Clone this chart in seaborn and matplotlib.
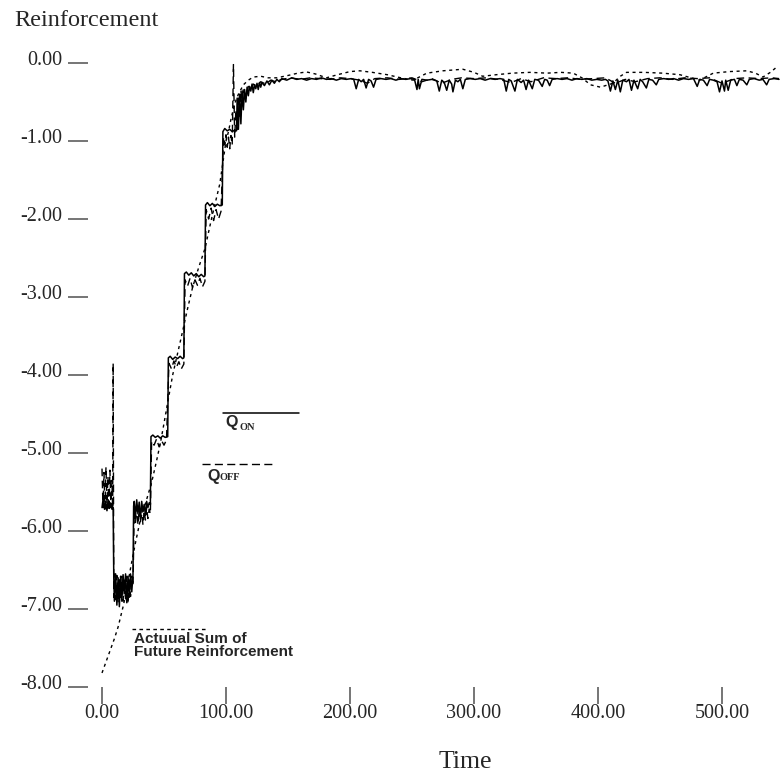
import matplotlib
matplotlib.use("Agg")
import matplotlib.pyplot as plt
from matplotlib.lines import Line2D
from matplotlib.transforms import ScaledTranslation
import seaborn as sns
import pandas as pd

# ---------------- data ----------------
q_on_t = [0, 1, 2, 3, 4, 5, 6, 7, 8, 9,
          9.5, 10, 11, 12, 13, 14, 15, 16, 17, 18, 19, 20, 21, 22, 23, 24, 25,
          25.5, 26, 27, 28, 29, 30, 31, 32, 33, 34, 35, 36, 37, 38, 39,
          39.5, 41, 43, 45, 47, 49, 51, 53,
          53.5, 55, 57, 59, 61, 63, 65, 66,
          66.5, 68, 70, 72, 74, 76, 78, 80, 82, 83,
          83.5, 85, 87, 89, 91, 93, 95, 97,
          97.5, 99, 101, 103, 105, 107, 108.5,
          109, 110, 111, 112, 113, 114, 115, 116, 117, 118, 119, 120, 121, 122, 123, 124,
          125, 126, 127, 128, 129, 131, 133, 135, 137, 139, 141, 143, 145,
          149, 153, 157, 161, 165, 169, 173, 177, 181, 185, 189, 193, 197, 201, 203,
          205, 207, 209, 211, 213, 215, 217, 219, 221, 225, 229, 233, 237, 241, 245,
          249, 252, 254, 255, 256, 258, 262, 266, 270, 272, 274, 276, 278, 280, 282,
          283, 285, 287, 289, 291, 293, 297, 301, 305, 309, 313, 317, 321, 324, 326,
          328, 330, 333, 335, 338, 340, 342, 344, 347, 349, 352, 355, 357, 359, 361,
          363, 367, 371, 375, 379, 383, 387, 391, 395, 399, 403, 406, 408, 410, 412,
          414, 416, 418, 420, 423, 425, 427, 429, 432, 434, 436, 439, 441, 444, 447,
          449, 453, 457, 461, 465, 469, 473, 477, 480, 482, 485, 488, 490, 493, 496,
          498, 500, 502, 503, 505, 507, 510, 512, 514, 517, 520, 522, 526, 530, 533,
          536, 538, 542, 546]
q_on_v = [-5.70, -5.58, -5.72, -5.62, -5.74, -5.60, -5.71, -5.64, -5.72, -5.70,
          -6.60, -6.90, -6.55, -6.95, -6.60, -6.97, -6.58, -6.90, -6.56, -6.80, -6.55, -6.92, -6.58, -6.85, -6.55, -6.78, -6.56,
          -5.68, -5.62, -5.82, -5.60, -5.78, -5.63, -5.85, -5.62, -5.75, -5.66, -5.80, -5.62, -5.70, -5.64, -5.66,
          -4.79, -4.77, -4.80, -4.78, -4.81, -4.78, -4.80, -4.79,
          -3.78, -3.76, -3.80, -3.77, -3.79, -3.76, -3.79, -3.78,
          -2.70, -2.68, -2.72, -2.69, -2.73, -2.70, -2.74, -2.71, -2.74, -2.73,
          -1.82, -1.79, -1.83, -1.80, -1.84, -1.81, -1.83, -1.82,
          -0.88, -0.84, -0.87, -0.85, -0.88, -0.86, -0.87,
          -0.45, -0.85, -0.40, -0.78, -0.36, -0.60, -0.34, -0.50, -0.31, -0.42, -0.30, -0.36, -0.27, -0.38, -0.28, -0.33,
          -0.26, -0.34, -0.25, -0.31, -0.25, -0.29, -0.23, -0.28, -0.22, -0.26, -0.21, -0.24, -0.20,
          -0.22, -0.19, -0.21, -0.20, -0.22, -0.20, -0.21, -0.19, -0.21, -0.20, -0.22, -0.20, -0.21, -0.20, -0.21,
          -0.33, -0.21, -0.24, -0.21, -0.32, -0.21, -0.23, -0.31, -0.21, -0.20, -0.21, -0.20, -0.22, -0.20, -0.21,
          -0.20, -0.21, -0.34, -0.21, -0.33, -0.21, -0.22, -0.21, -0.23, -0.36, -0.22, -0.25, -0.35, -0.22, -0.27,
          -0.37, -0.22, -0.24, -0.21, -0.33, -0.21, -0.20, -0.21, -0.20, -0.22, -0.20, -0.21, -0.20, -0.21, -0.36,
          -0.21, -0.23, -0.36, -0.21, -0.25, -0.22, -0.34, -0.22, -0.33, -0.21, -0.22, -0.30, -0.21, -0.22, -0.29,
          -0.21, -0.20, -0.21, -0.20, -0.22, -0.20, -0.21, -0.20, -0.22, -0.21, -0.22, -0.21, -0.23, -0.36, -0.23,
          -0.34, -0.22, -0.37, -0.22, -0.24, -0.21, -0.35, -0.22, -0.33, -0.21, -0.24, -0.32, -0.21, -0.22, -0.28,
          -0.21, -0.20, -0.21, -0.20, -0.22, -0.20, -0.21, -0.20, -0.30, -0.21, -0.22, -0.29, -0.21, -0.22, -0.24,
          -0.37, -0.23, -0.36, -0.22, -0.35, -0.22, -0.21, -0.29, -0.21, -0.22, -0.28, -0.21, -0.20, -0.22, -0.21,
          -0.28, -0.21, -0.20, -0.21]

q_off_t = [0, 0.8, 1.6, 2.4, 3.2, 4.0, 4.8, 5.6, 6.4, 7.2, 8.0, 8.6,
           9, 9.5, 10.5, 11, 12, 13, 14, 15, 16, 17, 18, 19, 20, 21, 22, 23, 24, 25,
           26, 27, 28, 29, 30, 31, 32, 33, 34, 35, 36, 37, 38, 39,
           40, 42, 44, 46, 48, 50, 52,
           54, 56, 58, 60, 62, 64, 66,
           67, 69, 71, 73, 75, 77, 79, 81, 83,
           84, 86, 88, 90, 92, 94, 96,
           98, 99, 100, 101, 102, 103, 104, 105,
           106, 107, 108, 109, 110, 111, 112, 113, 114, 116, 118, 120, 122, 125, 128,
           132, 136, 140, 145, 152, 160, 168, 176, 184, 192, 200, 208, 214, 220, 230,
           240, 250, 258, 266, 274, 282, 290, 300, 310, 320, 330, 338, 346, 356, 366,
           376, 386, 396, 406, 414, 422, 430, 440, 450, 460, 470, 480, 490, 500, 510,
           520, 530, 540, 546]
q_off_v = [-5.20, -5.70, -5.25, -5.72, -5.18, -5.65, -5.30, -5.74, -5.22, -5.70, -5.35, -5.72,
           -3.85, -6.85, -6.55, -6.88, -6.57, -6.92, -6.60, -6.85, -6.58, -6.90, -6.62, -6.87, -6.58, -6.93, -6.60, -6.84, -6.58, -6.70,
           -5.75, -5.90, -5.70, -5.92, -5.72, -5.88, -5.70, -5.92, -5.74, -5.86, -5.70, -5.84, -5.72, -5.78,
           -4.85, -4.90, -4.82, -4.92, -4.84, -4.90, -4.83,
           -3.85, -3.92, -3.82, -3.90, -3.83, -3.92, -3.86,
           -2.78, -2.86, -2.76, -2.88, -2.78, -2.85, -2.76, -2.87, -2.80,
           -1.88, -2.00, -1.86, -2.02, -1.88, -2.00, -1.90,
           -0.95, -1.05, -0.92, -1.08, -0.95, -1.10, -0.93, -1.05,
           -0.02, -0.95, -0.60, -0.85, -0.45, -0.70, -0.35, -0.55, -0.32, -0.45, -0.30, -0.34, -0.27, -0.30, -0.24,
           -0.27, -0.22, -0.24, -0.21, -0.19, -0.21, -0.19, -0.20, -0.21, -0.19, -0.20, -0.22, -0.26, -0.20, -0.19,
           -0.21, -0.19, -0.24, -0.20, -0.26, -0.21, -0.19, -0.20, -0.19, -0.21, -0.25, -0.20, -0.24, -0.19, -0.20,
           -0.19, -0.21, -0.20, -0.19, -0.26, -0.21, -0.24, -0.20, -0.19, -0.21, -0.19, -0.20, -0.19, -0.26, -0.20,
           -0.19, -0.20, -0.19, -0.20]

actual_t = [0, 5, 10, 13, 17, 20, 23, 27, 31, 35, 40, 44, 47, 50, 53, 57, 61, 65, 69, 73,
            78, 83, 88, 92, 95, 98, 100, 102, 104, 107, 110, 114, 118, 122, 128, 134, 141, 150,
            158, 165, 172, 181, 190, 200, 208, 218, 230, 241, 251, 262, 275, 291, 300, 307,
            318, 331, 345, 359, 370, 380, 387, 394, 402, 412, 418, 423, 437, 452, 466, 475,
            482, 488, 493, 506, 520, 527, 533, 539, 545]
actual_v = [-7.82, -7.60, -7.38, -7.23, -6.97, -6.75, -6.48, -6.15, -5.85, -5.65, -5.38, -5.10, -4.88, -4.62, -4.35, -4.00, -3.72, -3.44, -3.15, -2.88,
            -2.62, -2.38, -2.02, -1.75, -1.55, -1.22, -1.00, -0.88, -0.72, -0.52, -0.40, -0.28, -0.22, -0.18, -0.17, -0.19, -0.19, -0.16,
            -0.13, -0.115, -0.14, -0.19, -0.15, -0.11, -0.10, -0.12, -0.15, -0.19, -0.22, -0.13, -0.10, -0.08, -0.12, -0.17,
            -0.15, -0.13, -0.12, -0.13, -0.12, -0.13, -0.19, -0.28, -0.31, -0.26, -0.17, -0.12, -0.12, -0.13, -0.15, -0.19,
            -0.22, -0.17, -0.13, -0.11, -0.10, -0.13, -0.18, -0.12, -0.04]

x_ticks = [0, 100, 200, 300, 400, 500]
x_tick_labels = ["0.00", "100.00", "200.00", "300.00", "400.00", "500.00"]
y_ticks = [0, -1, -2, -3, -4, -5, -6, -7, -8]
y_tick_labels = ["0.00", "-1.00", "-2.00", "-3.00", "-4.00", "-5.00", "-6.00", "-7.00", "-8.00"]

# ---------------- figure ----------------
sns.set_style("white")
plt.rcParams["font.family"] = ["Liberation Serif", "DejaVu Serif"]

W, H = 780, 776
fig = plt.figure(figsize=(W / 100, H / 100), dpi=100)
ax = fig.add_axes([88 / W, 1 - 687 / H, (W - 88) / W, (687 - 63) / H])


def fx(px):
    return px / W


def fy(py):
    return 1 - py / H


df_on = pd.DataFrame({"t": q_on_t, "v": q_on_v})
df_off = pd.DataFrame({"t": q_off_t, "v": q_off_v})
df_act = pd.DataFrame({"t": actual_t, "v": actual_v})

sns.lineplot(data=df_act, x="t", y="v", ax=ax, color="black", linewidth=1.0,
             linestyle=(0, (2.2, 2.6)), estimator=None, sort=False)
sns.lineplot(data=df_off, x="t", y="v", ax=ax, color="black", linewidth=1.0,
             linestyle=(0, (5.5, 3.2)), estimator=None, sort=False)
sns.lineplot(data=df_on, x="t", y="v", ax=ax, color="black", linewidth=1.1,
             linestyle="-", estimator=None, sort=False)

ax.set_xlim(-14 / 1.24, (W - 102) / 1.24)
ax.set_ylim(-8, 0)
for s in ax.spines.values():
    s.set_visible(False)
ax.set_xlabel("")
ax.set_ylabel("")

ax.set_xticks(x_ticks)
ax.set_xticklabels(x_tick_labels, fontsize=14.5)
ax.set_yticks(y_ticks)
ax.set_yticklabels(y_tick_labels, fontsize=14.5)
ax.tick_params(axis="y", direction="out", length=14.4, width=1.3, color="#6a6a6a",
               pad=4.3, left=True)
ax.tick_params(axis="x", direction="out", length=12.2, width=1.3, color="#6a6a6a",
               pad=0.3, bottom=True)
off = ScaledTranslation(0, 5 / 100, fig.dpi_scale_trans)
for lab in ax.get_yticklabels():
    lab.set_transform(lab.get_transform() + off)

fig.text(fx(14), fy(20), "Reinforcement", fontsize=17.5, ha="left", va="center")
fig.text(fx(465), fy(762), "Time", fontsize=18.5, ha="center", va="center")

# legend keys
fig.add_artist(Line2D([fx(223), fx(299)], [fy(413), fy(413)], color="black", linewidth=1.1))
fig.text(fx(225), fy(423), "Q", fontsize=11.5, fontweight="bold",
         family=["Liberation Sans", "DejaVu Sans"], ha="left", va="center")
fig.text(fx(240), fy(427), "ON", fontsize=7.5, fontweight="bold", ha="left", va="center")

fig.add_artist(Line2D([fx(202), fx(275)], [fy(464), fy(464)], color="black", linewidth=1.0,
                      linestyle=(0, (5.8, 3.1))))
fig.text(fx(207), fy(476), "Q", fontsize=11.5, fontweight="bold",
         family=["Liberation Sans", "DejaVu Sans"], ha="left", va="center")
fig.text(fx(219), fy(478), "OFF", fontsize=7.5, fontweight="bold", ha="left", va="center")

fig.add_artist(Line2D([fx(132), fx(208)], [fy(629), fy(629)], color="black", linewidth=1.0,
                      linestyle=(0, (2.6, 2.4))))
fig.text(fx(134), fy(645.5), "Actuual Sum of\nFuture Reinforcement", fontsize=11,
         fontweight="bold", family=["Liberation Sans", "DejaVu Sans"], ha="left",
         va="center", linespacing=0.88)

fig.savefig("out.png", dpi=100)
